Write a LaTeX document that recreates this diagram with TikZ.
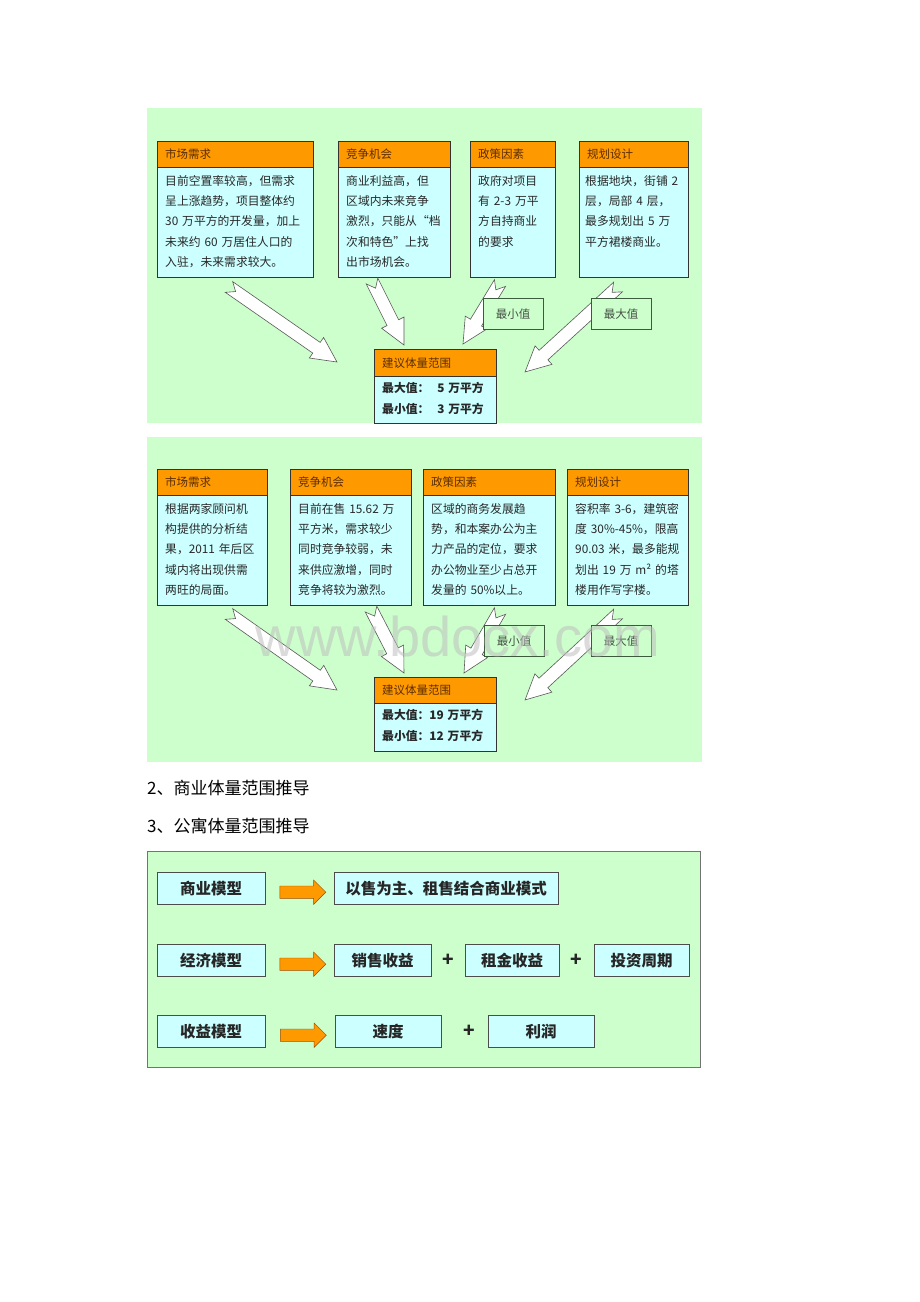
\documentclass[tikz,border=0pt]{standalone}
\usepackage{fontspec}
\setmainfont{Noto Sans CJK SC}
\newfontfamily\wmfont{Liberation Sans}
\usetikzlibrary{shapes.arrows, calc, shadows}

\definecolor{bggreen}{RGB}{204,255,204}
\definecolor{boxcyan}{RGB}{204,255,255}
\definecolor{headorange}{RGB}{255,153,0}
\definecolor{headtext}{RGB}{90,45,0}
\definecolor{boxline}{RGB}{51,51,51}
\definecolor{bodytext}{RGB}{40,40,40}
\definecolor{tagline}{RGB}{60,90,60}
\definecolor{tagtext}{RGB}{70,80,70}
\definecolor{wmgray}{RGB}{190,190,190}

% white block arrow with a notched tail, from #1 (tail) to #2 (tip)
\newcommand{\blockarrow}[2]{%
  \draw[bigarrow] let \p1=(#1), \p2=(#2),
    \n1={atan2(\y2-\y1,\x2-\x1)}, \n2={veclen(\x2-\x1,\y2-\y1)} in
    [shift={(\p1)}, rotate=\n1]
    (0pt,6.5pt) -- (\n2*1pt-25pt,6.5pt) -- (\n2*1pt-25pt,12.5pt) -- (\n2*1pt,0pt)
    -- (\n2*1pt-25pt,-12.5pt) -- (\n2*1pt-25pt,-6.5pt) -- (0pt,-6.5pt) -- (8pt,0pt) -- cycle;}

\begin{document}
\begin{tikzpicture}[x=1pt, y=-1pt,
    panel/.style={fill=bggreen, draw=none},
    head/.style={draw=boxline, fill=headorange, anchor=north west, minimum height=26pt, inner xsep=8pt, inner ysep=0pt, text=headtext, font=\fontsize{11.5}{12}\selectfont, align=left},
    body/.style={draw=boxline, fill=boxcyan, anchor=north west, inner xsep=8pt, inner ysep=0pt, text height=17.5pt, text depth=92.5pt, text=bodytext, font=\fontsize{11.8}{20.4}\selectfont, align=left},
    result/.style={body, text height=15.5pt, text depth=31.5pt, font=\bfseries\fontsize{11.8}{21}\selectfont},
    tag/.style={draw=tagline, fill=bggreen, anchor=north west, minimum width=60pt, minimum height=31pt, inner sep=0pt, text=tagtext, font=\fontsize{11.5}{12}\selectfont},
    bigarrow/.style={draw=black!65, fill=white, line width=0.6pt, line join=miter},
    model/.style={draw=black!70, fill=boxcyan, anchor=north west, minimum height=32pt, inner sep=0pt, text=black!85, font=\bfseries\fontsize{15.5}{16}\selectfont, drop shadow={shadow xshift=1.2pt, shadow yshift=-1.2pt, opacity=0.8, fill=black!60}},
    fatarrow/.style={single arrow, draw=orange!60!black, fill=headorange, minimum height=46pt, single arrow head extend=6pt, single arrow head indent=0pt, inner sep=6pt},
    plus/.style={inner sep=0pt, text=black!85, font=\bfseries\fontsize{19}{19}\selectfont}
]
\useasboundingbox (0,0) rectangle (920,1302);

% background panels
\fill[panel] (147,108) rectangle (702,423);
\fill[panel] (147,437) rectangle (702,762);
\filldraw[panel, draw=black!55, line width=0.9pt] (147,851) rectangle (700,1067);

% first diagram: factor boxes
\node[head, text width=140pt] (mh1) at (157,141) {市场需求};
\node[body, text width=140pt] (mb1) at (mh1.south west) {目前空置率较高，但需求\\呈上涨趋势，项目整体约\\30 万平方的开发量，加上\\未来约 60 万居住人口的\\入驻，未来需求较大。};
\node[head, text width=96pt] (ch1) at (338,141) {竞争机会};
\node[body, text width=96pt] (cb1) at (ch1.south west) {商业利益高，但\\区域内未来竞争\\激烈，只能从“档\\次和特色”上找\\出市场机会。};
\node[head, text width=69pt] (ph1) at (470,141) {政策因素};
\node[body, text width=69pt] (pb1) at (ph1.south west) {政府对项目\\有 2-3 万平\\方自持商业\\的要求};
\node[head, text width=93pt] (gh1) at (579,141) {规划设计};
\node[body, text width=97pt, inner xsep=6pt] (gb1) at (gh1.south west) {根据地块，街铺~2\\层，局部 4 层，\\最多规划出 5 万\\平方裙楼商业。};

% first diagram: result
\node[head, text width=106pt, minimum height=27pt] (rh1) at (374,349) {建议体量范围};
\node[result, text width=106pt] (rb1) at (rh1.south west) {最大值：\ \ 5 万平方\\最小值：\ \ 3 万平方};

% first diagram: arrows
\coordinate (a1tail) at (229,287); \coordinate (a1tip) at (337,362);
\coordinate (a2tail) at (372,281); \coordinate (a2tip) at (404,345);
\coordinate (a3tail) at (500,283); \coordinate (a3tip) at (463,344);
\coordinate (a4tail) at (618,287); \coordinate (a4tip) at (525,372);
\blockarrow{a1tail}{a1tip}
\blockarrow{a2tail}{a2tip}
\blockarrow{a3tail}{a3tip}
\blockarrow{a4tail}{a4tip}
\node[tag] (min1) at (483,298) {最小值};
\node[tag] (max1) at (591,298) {最大值};

% second diagram: factor boxes
\node[head, text width=94pt] (mh2) at (157,469) {市场需求};
\node[body, text width=94pt] (mb2) at (mh2.south west) {根据两家顾问机\\构提供的分析结\\果，2011 年后区\\域内将出现供需\\两旺的局面。};
\node[head, text width=105pt] (ch2) at (290,469) {竞争机会};
\node[body, text width=105pt] (cb2) at (ch2.south west) {目前在售 15.62 万\\平方米，需求较少\\同时竞争较弱，未\\来供应激增，同时\\竞争将较为激烈。};
\node[head, text width=116pt] (ph2) at (423,469) {政策因素};
\node[body, text width=116pt] (pb2) at (ph2.south west) {区域的商务发展趋\\势，和本案办公为主\\力产品的定位，要求\\办公物业至少占总开\\发量的 50\%以上。};
\node[head, text width=105pt] (gh2) at (567,469) {规划设计};
\node[body, text width=105pt] (gb2) at (gh2.south west) {容积率 3-6，建筑密\\度 30\%-45\%，限高\\90.03 米，最多能规\\划出 19 万 m² 的塔\\楼用作写字楼。};

% second diagram: result
\node[head, text width=106pt] (rh2) at (374,677) {建议体量范围};
\node[result, text width=106pt, text depth=32.5pt] (rb2) at (rh2.south west) {最大值：19 万平方\\最小值：12 万平方};

% second diagram: arrows
\coordinate (b1tail) at (229,614); \coordinate (b1tip) at (337,690);
\coordinate (b2tail) at (371,609); \coordinate (b2tip) at (404,673);
\coordinate (b3tail) at (500,611); \coordinate (b3tip) at (464,673);
\coordinate (b4tail) at (618,614); \coordinate (b4tip) at (525,700);
\blockarrow{b1tail}{b1tip}
\blockarrow{b2tail}{b2tip}
\blockarrow{b3tail}{b3tip}
\blockarrow{b4tail}{b4tip}
\node[tag] (min2) at (484,625) {最小值};
\node[tag] (max2) at (591,625) {最大值};
\node[text=wmgray, opacity=0.55, font=\wmfont\fontsize{56}{56}\selectfont] (mark) at (458,636) {www.bdocx.com};

% section titles
\node[anchor=west, inner sep=0pt, font=\fontsize{17}{18}\selectfont] (sec2) at (147,788) {2、商业体量范围推导};
\node[anchor=west, inner sep=0pt, font=\fontsize{17}{18}\selectfont] (sec3) at (147,826) {3、公寓体量范围推导};

% third diagram: models
\node[model, minimum width=108pt] (bizm) at (157,872) {商业模型};
\node[model, minimum width=224pt] (bizr) at (334,872) {以售为主、租售结合商业模式};
\node[fatarrow, yshift=-4pt] (ar1) at ($(bizm.east)!0.5!(bizr.west)$) {};

\node[model, minimum width=108pt] (ecom) at (157,944) {经济模型};
\node[model, minimum width=97pt] (sale) at (334,944) {销售收益};
\node[model, minimum width=94pt] (rent) at (465,944) {租金收益};
\node[model, minimum width=95pt] (cycle) at (594,944) {投资周期};
\node[fatarrow, yshift=-4pt] (ar2) at ($(ecom.east)!0.5!(sale.west)$) {};
\node[plus] (pl1) at ($(sale.east)!0.5!(rent.west)$) {+};
\node[plus] (pl2) at ($(rent.east)!0.5!(cycle.west)$) {+};

\node[model, minimum width=108pt] (earn) at (157,1015) {收益模型};
\node[model, minimum width=106pt] (speed) at (335,1015) {速度};
\node[model, minimum width=106pt] (profit) at (488,1015) {利润};
\node[fatarrow, yshift=-4pt] (ar3) at ($(earn.east)!0.5!(speed.west)$) {};
\node[plus, xshift=5pt] (pl3) at ($(speed.east)!0.5!(profit.west)$) {+};

\end{tikzpicture}
\end{document}
